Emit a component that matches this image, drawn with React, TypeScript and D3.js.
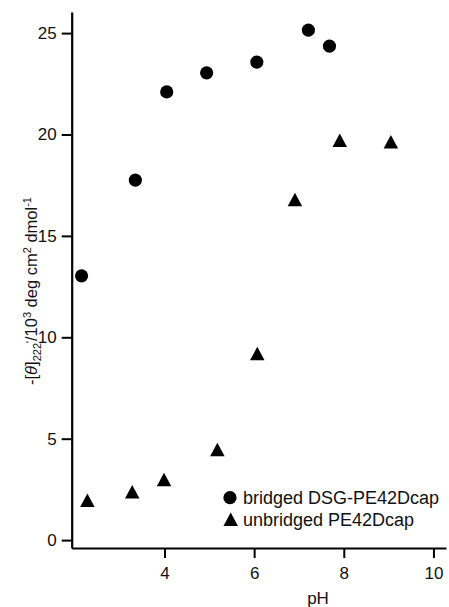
import React, { useEffect, useRef } from 'react';
import * as d3 from 'd3';

// bridged DSG-PE42Dcap (circles)
const bridgedPH = [2.15, 3.35, 4.05, 4.94, 6.06, 7.21, 7.68];
const bridgedTheta = [13.03, 17.75, 22.1, 23.04, 23.57, 25.15, 24.36];

// unbridged PE42Dcap (triangles)
const unbridgedPH = [2.28, 3.28, 3.99, 5.18, 6.07, 6.91, 7.91, 9.05];
const unbridgedTheta = [1.97, 2.38, 2.99, 4.47, 9.2, 16.8, 19.72, 19.64];

const xTicks = [4, 6, 8, 10];
const yTicks = [0, 5, 10, 15, 20, 25];
const legendLabels = ['bridged DSG-PE42Dcap', 'unbridged PE42Dcap'];

const W = 449;
const H = 607;
const FONT = '"Liberation Sans", Arial, Helvetica, sans-serif';

const triPath = (w: number, h: number) =>
  `M0,${-h / 2}L${w / 2},${h / 2}L${-w / 2},${h / 2}Z`;

const App = () => {
  const ref = useRef<SVGSVGElement>(null);

  useEffect(() => {
    if (!ref.current) return;
    const svg = d3.select(ref.current);
    svg.selectAll('*').remove();

    const x = d3.scaleLinear().domain([1.93, 10.28]).range([71.7, 446]);
    const y = d3.scaleLinear().domain([-0.39, 26.04]).range([548, 12]);

    const xAxis = svg.append('g')
      .attr('transform', `translate(0,${y(-0.39)})`)
      .call(d3.axisBottom(x).tickValues(xTicks).tickSize(10).tickSizeOuter(0).tickPadding(9).tickFormat(d3.format('d')));

    const yAxis = svg.append('g')
      .attr('transform', `translate(${x(1.93)},0)`)
      .call(d3.axisLeft(y).tickValues(yTicks).tickSize(10).tickSizeOuter(0).tickPadding(5).tickFormat(d3.format('d')));

    [xAxis, yAxis].forEach(g => {
      g.select('.domain').attr('stroke', '#000').attr('stroke-width', 2.2);
      g.selectAll('.tick line').attr('stroke', '#000').attr('stroke-width', 2);
      g.selectAll('.tick text')
        .attr('fill', '#111')
        .style('font-family', FONT)
        .style('font-size', '17px');
    });

    // x label
    svg.append('text')
      .attr('x', 318)
      .attr('y', 604)
      .attr('text-anchor', 'middle')
      .style('font-family', FONT)
      .style('font-size', '17px')
      .attr('fill', '#111')
      .text('pH');

    // y label
    const yl = svg.append('text')
      .attr('transform', 'translate(37,291) rotate(-90)')
      .attr('text-anchor', 'middle')
      .style('font-family', FONT)
      .style('font-size', '16.5px')
      .attr('fill', '#111');
    yl.append('tspan').text('-[');
    yl.append('tspan').style('font-style', 'italic').text('θ');
    yl.append('tspan').text(']');
    yl.append('tspan').attr('dy', 4).style('font-size', '11px').text('222');
    yl.append('tspan').attr('dy', -7).style('font-size', '10px').text("'");
    yl.append('tspan').attr('dy', 3).text('/10');
    yl.append('tspan').attr('dy', -6).style('font-size', '11px').text('3');
    yl.append('tspan').attr('dy', 6).text(' deg cm');
    yl.append('tspan').attr('dy', -6).style('font-size', '11px').text('2');
    yl.append('tspan').attr('dy', 6).text(' dmol');
    yl.append('tspan').attr('dy', -6).style('font-size', '11px').text('-1');

    // bridged circles
    svg.append('g')
      .selectAll('circle')
      .data(d3.zip(bridgedPH, bridgedTheta))
      .enter()
      .append('circle')
      .attr('cx', d => x(d[0]))
      .attr('cy', d => y(d[1]))
      .attr('r', 6.6)
      .attr('fill', '#000');

    // unbridged triangles
    svg.append('g')
      .selectAll('path')
      .data(d3.zip(unbridgedPH, unbridgedTheta))
      .enter()
      .append('path')
      .attr('transform', d => `translate(${x(d[0])},${y(d[1])})`)
      .attr('d', triPath(14.5, 13.5))
      .attr('fill', '#000');

    // legend
    const lg = svg.append('g').attr('transform', 'translate(230,497.7)');
    lg.append('circle').attr('r', 6.6).attr('fill', '#000');
    lg.append('path').attr('transform', 'translate(0.7,21.6)').attr('d', triPath(14.5, 13.5)).attr('fill', '#000');
    lg.selectAll('text')
      .data(legendLabels)
      .enter()
      .append('text')
      .attr('x', 13)
      .attr('y', (d, i) => i * 21.6)
      .attr('dy', '0.35em')
      .style('font-family', FONT)
      .style('font-size', '18px')
      .attr('fill', '#111')
      .text(d => d);
  }, []);

  return (
    <svg
      ref={ref}
      width={W}
      height={H}
      style={{ position: 'absolute', left: 0, top: 0, background: 'white' }}
    />
  );
};

export default App;
